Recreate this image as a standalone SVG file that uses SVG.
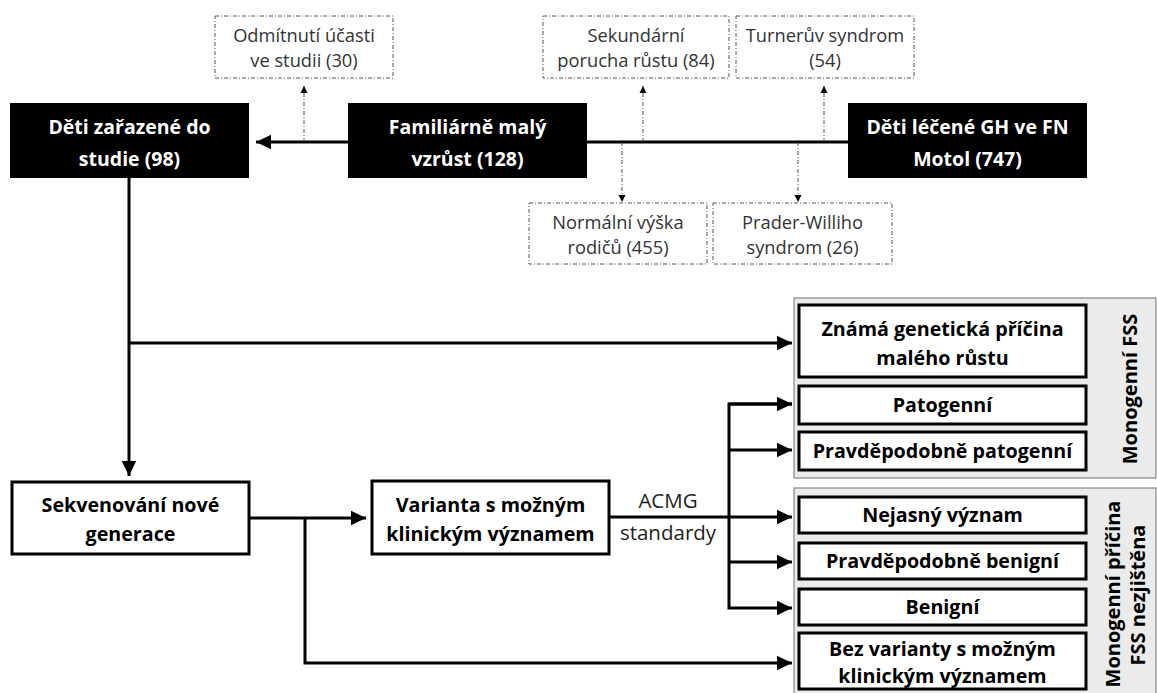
<svg xmlns="http://www.w3.org/2000/svg" width="1157" height="693" viewBox="0 0 1157 693">
<style>
text{font-family:"Open Sans","Noto Sans","Liberation Sans",sans-serif;text-anchor:middle}
.blk rect{fill:#000}
.blk text{fill:#fff;font-weight:bold;font-size:19.5px}
.dsh rect{fill:#fff;stroke:#555;stroke-width:1;stroke-dasharray:4 2 1 2}
.dsh text{fill:#333;font-size:18.3px}
.box rect{fill:#fff;stroke:#000;stroke-width:3}
.box text{fill:#000;font-weight:bold;font-size:19.7px}
.grp rect{fill:#ebebeb;stroke:#888;stroke-width:1.2}
.grp text{fill:#000;font-weight:bold;font-size:20px}
.ln{fill:none;stroke:#000;stroke-width:3}
.dl{fill:none;stroke:#555;stroke-width:1;stroke-dasharray:4 2 1 2}
.lbl{fill:#222;font-size:20.5px}
</style>
<defs>
<marker id="ah" markerWidth="6" markerHeight="6" refX="5" refY="3" orient="auto" markerUnits="strokeWidth"><path d="M0,0.6 L5,3 L0,5.4 z" fill="#000"/></marker>
<marker id="ahd" markerWidth="8" markerHeight="8" refX="7" refY="4" orient="auto" markerUnits="userSpaceOnUse"><path d="M0,0.5 L7,4 L0,7.5 z" fill="#000"/></marker>
</defs>
<g id="group-monogenni">
<g class="grp"><rect x="794" y="298" width="362" height="180"/><text transform="translate(1137,389) rotate(-90)">Monogenní FSS</text></g>
</g>
<g id="group-nezjistena">
<g class="grp"><rect x="794" y="488" width="362" height="210"/><text transform="translate(1120,594) rotate(-90)">Monogenní příčina</text><text transform="translate(1145,595) rotate(-90)">FSS nezjištěna</text></g>
</g>
<g id="connectors">
<path class="ln" d="M848,142 H256" marker-end="url(#ah)"/>
<path class="dl" d="M304,142 V86" marker-end="url(#ahd)"/>
<path class="dl" d="M643,142 V86" marker-end="url(#ahd)"/>
<path class="dl" d="M824,142 V86" marker-end="url(#ahd)"/>
<path class="dl" d="M622,142 V202" marker-end="url(#ahd)"/>
<path class="dl" d="M798,142 V202" marker-end="url(#ahd)"/>
<path class="ln" d="M129,178 V476" marker-end="url(#ah)"/>
<path class="ln" d="M129,343 H792" marker-end="url(#ah)"/>
<path class="ln" d="M249,518 H366" marker-end="url(#ah)"/>
<path class="ln" d="M305,518 V663 H792" marker-end="url(#ah)"/>
<path class="ln" d="M609,517 H729"/>
<path class="ln" d="M792,404 H729 V608 H792" marker-end="url(#ah)"/>
<path class="ln" d="M729,404 H792" marker-end="url(#ah)"/>
<path class="ln" d="M729,450 H792" marker-end="url(#ah)"/>
<path class="ln" d="M729,517 H792" marker-end="url(#ah)"/>
<path class="ln" d="M729,562 H792" marker-end="url(#ah)"/>
<text class="lbl" x="668" y="508">ACMG</text>
<text class="lbl" x="668" y="540">standardy</text>
</g>
<g id="deti-zarazene" class="blk"><rect x="10" y="103" width="239" height="75"/><text x="129.5" y="134">Děti zařazené do</text><text x="129.5" y="166">studie (98)</text></g>
<g id="familiarne" class="blk"><rect x="348" y="103" width="239" height="75"/><text x="467.5" y="134">Familiárně malý</text><text x="467.5" y="166">vzrůst (128)</text></g>
<g id="deti-lecene" class="blk"><rect x="848" y="103" width="239" height="75"/><text x="967.5" y="134">Děti léčené GH ve FN</text><text x="967.5" y="166">Motol (747)</text></g>
<g id="odmitnuti" class="dsh"><rect x="215" y="16" width="178" height="62"/><text x="304" y="42">Odmítnutí účasti</text><text x="304" y="67">ve studii (30)</text></g>
<g id="sekundarni" class="dsh"><rect x="543" y="16" width="186" height="62"/><text x="636" y="42">Sekundární</text><text x="636" y="67">porucha růstu (84)</text></g>
<g id="turner" class="dsh"><rect x="736" y="16" width="178" height="62"/><text x="825" y="42">Turnerův syndrom</text><text x="825" y="67">(54)</text></g>
<g id="normalni" class="dsh"><rect x="529" y="203" width="178" height="61"/><text x="618" y="229">Normální výška</text><text x="618" y="254">rodičů (455)</text></g>
<g id="prader" class="dsh"><rect x="713" y="203" width="179" height="61"/><text x="802.5" y="229">Prader-Williho</text><text x="802.5" y="254">syndrom (26)</text></g>
<g id="sekvenovani" class="box"><rect x="12" y="482" width="237" height="72"/><text x="130.5" y="512">Sekvenování nové</text><text x="130.5" y="541">generace</text></g>
<g id="varianta" class="box"><rect x="372" y="481" width="237" height="73"/><text x="490.5" y="512">Varianta s možným</text><text x="490.5" y="541">klinickým významem</text></g>
<g id="znama" class="box"><rect x="799" y="305" width="287" height="72"/><text x="942.5" y="336">Známá genetická příčina</text><text x="942.5" y="365">malého růstu</text></g>
<g id="patogenni" class="box"><rect x="799" y="386" width="287" height="38"/><text x="942.5" y="412">Patogenní</text></g>
<g id="pravd-patogenni" class="box"><rect x="799" y="432" width="287" height="38"/><text x="942.5" y="458">Pravděpodobně patogenní</text></g>
<g id="nejasny" class="box"><rect x="799" y="497" width="287" height="36"/><text x="942.5" y="522">Nejasný význam</text></g>
<g id="pravd-benigni" class="box"><rect x="799" y="543" width="287" height="36"/><text x="942.5" y="568">Pravděpodobně benigní</text></g>
<g id="benigni" class="box"><rect x="799" y="589" width="287" height="36"/><text x="942.5" y="614">Benigní</text></g>
<g id="bez-varianty" class="box"><rect x="799" y="633" width="287" height="56"/><text x="942.5" y="656">Bez varianty s možným</text><text x="942.5" y="683">klinickým významem</text></g>
</svg>
